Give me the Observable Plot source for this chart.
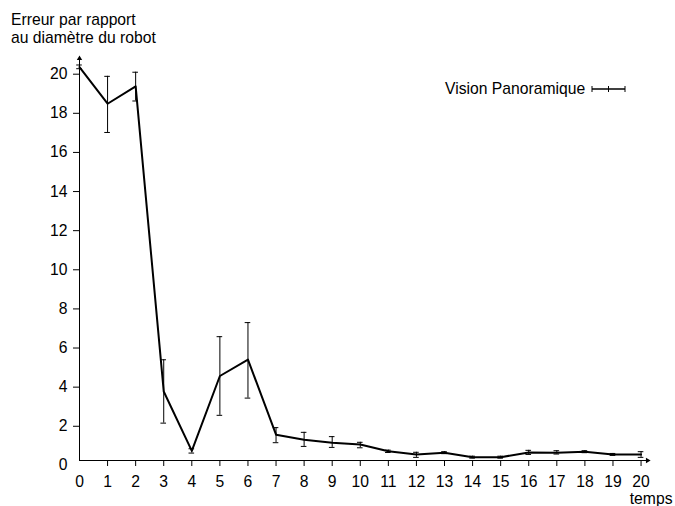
<!DOCTYPE html>
<html><head><meta charset="utf-8">
<script src="https://cdn.jsdelivr.net/npm/d3@7"></script>
<script src="https://cdn.jsdelivr.net/npm/@observablehq/plot@0.6"></script>
<style>
body{margin:0;background:#fff;font-family:"Liberation Sans",Arial,sans-serif;color:#000;}
#wrap{position:relative;width:675px;height:506px;overflow:hidden;}
#title{height:46px;box-sizing:border-box;padding:11px 0 0 11px;font-size:15.7px;line-height:18px;}
#legend{position:absolute;left:445px;top:80px;height:18px;display:flex;align-items:center;font-size:15.7px;line-height:18px;}
#legend svg{margin-left:5px;}
</style>
</head><body>
<div id="wrap">
<div id="title">Erreur par rapport<br>au diamètre du robot</div>
<div id="chart"></div>
<div id="legend"><span id="legtext"></span><svg width="38" height="10"><line x1="2" y1="5" x2="35" y2="5" stroke="#000" stroke-width="1.5"/><line x1="2" y1="2" x2="2" y2="8" stroke="#000"/><line x1="35" y1="2" x2="35" y2="8" stroke="#000"/><line x1="18.5" y1="2" x2="18.5" y2="8" stroke="#000"/></svg></div>
</div>
<script>
const seriesName = "Vision Panoramique";
const xLabel = "temps";
const temps = [0,1,2,3,4,5,6,7,8,9,10,11,12,13,14,15,16,17,18,19,20];
const erreur = [20.36,18.49,19.38,3.78,0.74,4.57,5.41,1.57,1.31,1.16,1.07,0.72,0.56,0.65,0.42,0.42,0.66,0.65,0.70,0.56,0.56];
const erreurMin = [20.28,17.02,18.63,2.16,0.63,2.56,3.44,1.16,0.97,0.92,0.90,0.66,0.41,0.60,0.37,0.37,0.56,0.58,0.65,0.51,0.41];
const erreurMax = [20.47,19.89,20.10,5.40,0.85,6.58,7.30,1.93,1.69,1.47,1.18,0.78,0.67,0.70,0.47,0.47,0.77,0.75,0.75,0.61,0.70];
const xTicks = [0,1,2,3,4,5,6,7,8,9,10,11,12,13,14,15,16,17,18,19,20];
const yTicks = [0,2,4,6,8,10,12,14,16,18,20];

document.getElementById("legtext").textContent = seriesName;

const data = temps.map((t,i)=>({t, m:erreur[i], lo:erreurMin[i], hi:erreurMax[i]}));
const yMin = 0.25, yTop = 21.16, xRight = 21.12;
const yArrow = 20.8, xArrow = 20.23;
const cap = 0.1;

const chart = Plot.plot({
  width:675, height:460,
  marginLeft:79, marginRight:3, marginTop:5, marginBottom:46,
  style:{fontFamily:"'Liberation Sans',Arial,sans-serif", fontSize:"15.7px", color:"#000", background:"transparent", overflow:"visible"},
  x:{domain:[0,xRight]},
  y:{domain:[yMin,yTop]},
  marks:[
    Plot.axisY(yTicks.slice(1), {tickSize:6, tickPadding:6, label:null, stroke:"#000", fill:"#000"}),
    Plot.axisY([yTicks[0]], {tickSize:0, tickPadding:12, label:null, fill:"#000"}),
    Plot.axisX(xTicks.slice(1), {tickSize:6, tickPadding:9, label:null, stroke:"#000", fill:"#000"}),
    Plot.axisX([xTicks[0]], {tickSize:0, tickPadding:15, label:null, fill:"#000"}),
    Plot.ruleY([yMin], {x1:0, x2:xArrow, stroke:"#000", strokeWidth:1}),
    Plot.ruleX([0], {y1:yMin, y2:yArrow, stroke:"#000", strokeWidth:1}),
    Plot.dot([{x:0, y:yArrow}], {x:"x", y:"y", symbol:"triangle", r:2, fill:"#000", stroke:null}),
    Plot.dot([{x:xArrow, y:yMin}], {x:"x", y:"y", symbol:"triangle", r:2, rotate:90, fill:"#000", stroke:null}),
    Plot.ruleX(data, {x:"t", y1:"lo", y2:"hi", stroke:"#000", strokeWidth:1}),
    Plot.ruleY(data, {y:"lo", x1:d=>d.t-cap, x2:d=>d.t+cap, stroke:"#000", strokeWidth:1}),
    Plot.ruleY(data, {y:"hi", x1:d=>d.t-cap, x2:d=>d.t+cap, stroke:"#000", strokeWidth:1}),
    Plot.line(data, {x:"t", y:"m", stroke:"#000", strokeWidth:2}),
    Plot.text([xLabel], {text:d=>d, frameAnchor:"bottom-right", textAnchor:"end", lineAnchor:"middle", dy:38.5, fill:"#000"})
  ]
});
document.getElementById("chart").appendChild(chart);
</script>
</body></html>
